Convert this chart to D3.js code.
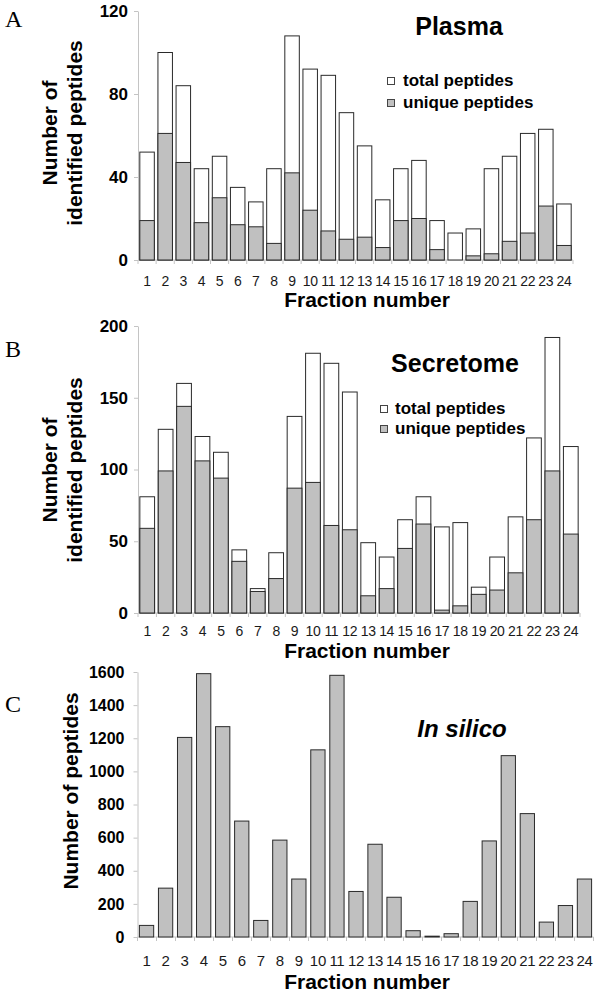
<!DOCTYPE html>
<html>
<head>
<meta charset="utf-8">
<script src="https://cdn.jsdelivr.net/npm/d3@7"></script>
<style>
  body { margin: 0; background: #fff; }
  svg { display: block; }
  text { font-family: Arial, "Liberation Sans", sans-serif; }
</style>
</head>
<body>
<svg id="chart" width="600" height="998"></svg>
<script>
// fraction numbers 1..24
var fractions = ["1","2","3","4","5","6","7","8","9","10","11","12","13","14","15","16","17","18","19","20","21","22","23","24"];

// A - Plasma
var plasmaTotal  = [52,100,84,44,50,35,28,44,108,92,89,71,55,29,44,48,19,13,15,44,50,61,63,27];
var plasmaUnique = [19,61,47,18,30,17,16,8,42,24,14,10,11,6,19,20,5,0,2,3,9,13,26,7];
var plasmaTicks  = [0,40,80,120];

// B - Secretome
var secretomeTotal  = [81,128,160,123,112,44,17,42,137,181,174,154,49,39,65,81,60,63,18,39,67,122,192,116];
var secretomeUnique = [59,99,144,106,94,36,15,24,87,91,61,58,12,17,45,62,2,5,13,16,28,65,99,55];
var secretomeTicks  = [0,50,100,150,200];

// C - In silico
var silicoPeptides = [70,295,1205,1590,1270,700,100,585,350,1130,1580,275,560,240,38,5,20,215,580,1095,745,90,190,350];
var silicoTicks    = [0,200,400,600,800,1000,1200,1400,1600];

var legendLabels = ["total peptides", "unique peptides"];

var svg = d3.select("#chart");
var grayFill = "#c0c0c0",
    barStroke = "#2a2a2a",
    axisColor = "#c4c4c4";

function drawPanel(opt) {
  var g = svg.append("g");

  var x = d3.scaleBand()
    .domain(fractions)
    .range([opt.x0, opt.x1])
    .paddingInner(opt.pi)
    .paddingOuter(opt.po);
  var y = d3.scaleLinear()
    .domain([0, opt.ticks[opt.ticks.length - 1]])
    .range([opt.yb, opt.yt]);

  // y axis
  var yAxis = d3.axisLeft(y)
    .tickValues(opt.ticks)
    .tickFormat(d3.format("d"))
    .tickSize(4).tickSizeOuter(0)
    .tickPadding(opt.tickPad || 6);
  var ya = g.append("g").attr("transform", "translate(" + opt.x0 + ",0)").call(yAxis);
  ya.select(".domain").attr("stroke", axisColor);
  ya.selectAll(".tick line").attr("stroke", axisColor);
  ya.selectAll(".tick text")
    .attr("fill", "#000")
    .style("font-size", opt.yFont + "px")
    .style("font-weight", "bold");

  // x axis line with ticks at band edges
  g.append("line")
    .attr("x1", opt.x0).attr("x2", opt.x1)
    .attr("y1", opt.yb).attr("y2", opt.yb)
    .attr("stroke", axisColor);
  var edge = function(i) { return opt.x0 + i * (opt.x1 - opt.x0) / fractions.length; };
  g.selectAll(".xedge")
    .data(d3.range(fractions.length + 1))
    .enter().append("line")
    .attr("x1", edge).attr("x2", edge)
    .attr("y1", opt.yb).attr("y2", opt.yb + 4)
    .attr("stroke", axisColor);

  g.selectAll(".xlab")
    .data(fractions)
    .enter().append("text")
    .attr("x", function(d) { return x(d) + x.bandwidth() / 2; })
    .attr("y", opt.xLabY)
    .attr("text-anchor", "middle")
    .attr("fill", "#1a1a1a")
    .style("font-size", opt.xFont + "px")
    .style("letter-spacing", "-0.3px")
    .text(function(d) { return d; });

  // bars
  if (opt.total) {
    g.selectAll(".tot")
      .data(opt.total)
      .enter().append("rect")
      .attr("x", function(d, i) { return x(fractions[i]); })
      .attr("y", function(d) { return y(d); })
      .attr("width", x.bandwidth())
      .attr("height", function(d) { return y(0) - y(d); })
      .attr("fill", "#fff")
      .attr("stroke", barStroke)
      .attr("stroke-width", 1);
  }
  var uni = opt.unique.map(function(v, i) { return { f: fractions[i], v: v }; })
    .filter(function(d) { return d.v > 0; });
  g.selectAll(".uni")
    .data(uni)
    .enter().append("rect")
    .attr("x", function(d) { return x(d.f); })
    .attr("y", function(d) { return y(d.v); })
    .attr("width", x.bandwidth())
    .attr("height", function(d) { return y(0) - y(d.v); })
    .attr("fill", grayFill)
    .attr("stroke", barStroke)
    .attr("stroke-width", 1);

  // x title
  g.append("text")
    .attr("x", opt.xTitleX).attr("y", opt.xTitleY)
    .attr("text-anchor", "middle")
    .style("font-size", "21px").style("font-weight", "bold")
    .text("Fraction number");

  // y title (one or two lines)
  opt.yTitle.forEach(function(line, i) {
    g.append("text")
      .attr("transform", "translate(" + opt.yTitleX[i] + "," + opt.yTitleMid + ") rotate(-90)")
      .attr("text-anchor", "middle")
      .style("font-size", "21px").style("font-weight", "bold")
      .text(line);
  });

  // chart title
  g.append("text")
    .attr("x", opt.titleX).attr("y", opt.titleY)
    .attr("text-anchor", "middle")
    .style("font-size", opt.titleFont + "px").style("font-weight", "bold")
    .style("font-style", opt.italic ? "italic" : "normal")
    .text(opt.title);

  // panel letter
  g.append("text")
    .attr("x", 5).attr("y", opt.letterY)
    .style("font-family", "'Times New Roman', 'Liberation Serif', serif")
    .style("font-size", "24px")
    .text(opt.letter);

  // legend
  if (opt.legend) {
    var lg = g.append("g").attr("transform", "translate(" + opt.legend.x + "," + opt.legend.y + ")");
    legendLabels.forEach(function(lab, i) {
      lg.append("rect")
        .attr("x", 0.5).attr("y", i * opt.legend.gap - 8.5)
        .attr("width", 7).attr("height", 7)
        .attr("fill", i === 0 ? "#fff" : grayFill)
        .attr("stroke", "#444");
      lg.append("text")
        .attr("x", opt.legend.tx).attr("y", i * opt.legend.gap)
        .style("font-size", "17px").style("font-weight", "bold")
        .text(lab);
    });
  }
}

drawPanel({
  letter: "A", letterY: 27,
  total: plasmaTotal, unique: plasmaUnique, ticks: plasmaTicks,
  x0: 138, x1: 573, pi: 0.2, po: 0.1,
  yb: 260, yt: 11,
  yFont: 17, xFont: 14, xLabY: 286,
  xTitleX: 367, xTitleY: 307,
  yTitle: ["Number of", "identified peptides"], yTitleX: [57, 82], yTitleMid: 133,
  title: "Plasma", titleX: 459, titleY: 35, titleFont: 25,
  legend: { x: 387, y: 86, gap: 22, tx: 16 }
});

drawPanel({
  letter: "B", letterY: 357,
  total: secretomeTotal, unique: secretomeUnique, ticks: secretomeTicks,
  x0: 138, x1: 580, pi: 0.2, po: 0.1,
  yb: 613, yt: 326,
  yFont: 17, xFont: 14, xLabY: 636,
  xTitleX: 367, xTitleY: 658,
  yTitle: ["Number of", "identified peptides"], yTitleX: [57, 82], yTitleMid: 470,
  title: "Secretome", titleX: 455, titleY: 372, titleFont: 25,
  legend: { x: 380, y: 414, gap: 20, tx: 15 }
});

drawPanel({
  letter: "C", letterY: 712,
  total: null, unique: silicoPeptides, ticks: silicoTicks,
  x0: 137.5, x1: 593.5, pi: 0.25, po: 0.1,
  yb: 937, yt: 672,
  yFont: 16, xFont: 15, xLabY: 966, tickPad: 9,
  xTitleX: 367, xTitleY: 989,
  yTitle: ["Number of peptides"], yTitleX: [78], yTitleMid: 791,
  title: "In silico", titleX: 462, titleY: 737, titleFont: 24, italic: true,
  legend: null
});
</script>
</body>
</html>
